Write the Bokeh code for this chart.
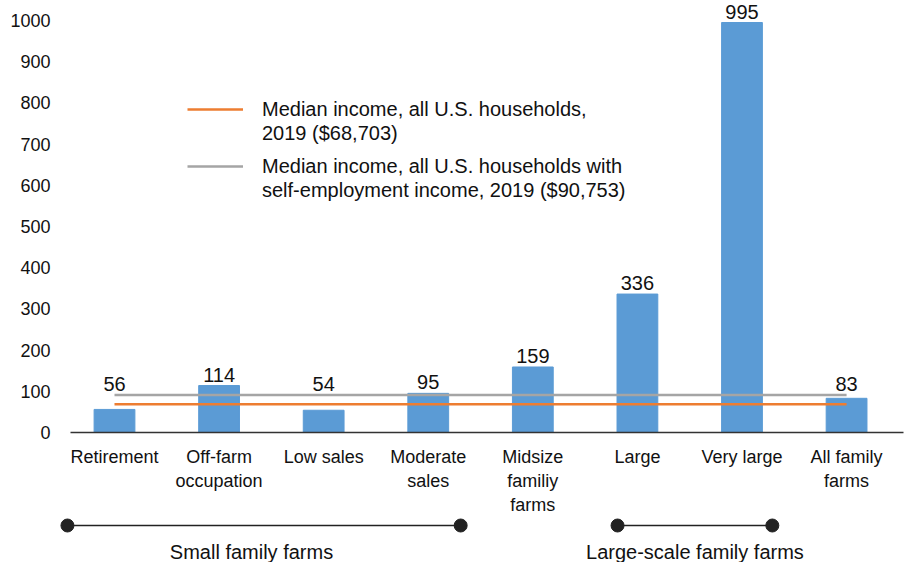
from bokeh.plotting import figure
from bokeh.models import Range1d, FixedTicker, Legend, LegendItem, ColumnDataSource
from bokeh.layouts import column
from bokeh.embed import file_html
from bokeh.resources import INLINE

# ---- data ----
categories = ["Retirement", "Off-farm\noccupation", "Low sales", "Moderate\nsales",
              "Midsize\nfamiliy\nfarms", "Large", "Very large", "All family\nfarms"]
income = [56, 114, 54, 95, 159, 336, 995, 83]          # $1,000
median_all_households = 68.703                          # $1,000
median_self_employed = 90.753                           # $1,000
y_ticks = [0, 100, 200, 300, 400, 500, 600, 700, 800, 900, 1000]
legend_all = ["Median income, all U.S. households,", "2019 ($68,703)"]
legend_self = ["Median income, all U.S. households with", "self-employment income, 2019 ($90,753)"]
groups = ["Small family farms", "Large-scale family farms"]
group_first = [0, 5]
group_last = [3, 6]

# ---- style ----
FONT = "Liberation Sans"
BAR = "#5B9BD5"
ORANGE = "#ED7D31"
GREY = "#A5A5A5"
TXT = "#111111"
W = 905
BORDER_LEFT = 70
BORDER_RIGHT = 2
FRAME_BOTTOM = 433
H_MAIN = 517
H_BOT = 45
PPU = (W - BORDER_LEFT - BORDER_RIGHT) / 7.965
X0 = -44.0 / PPU
X1 = X0 + (W - BORDER_LEFT - BORDER_RIGHT) / PPU
YMAX = FRAME_BOTTOM / 0.413
pad_left = [0.45, 0.19]
pad_right = [0.31, 0.29]
group_label_shift = [-0.12, 0.0]

idx = list(range(len(categories)))
label_y = [max(v, median_self_employed) for v in income]
src = ColumnDataSource(dict(x=idx, top=income, ly=label_y, txt=[str(v) for v in income]))

p = figure(width=W, height=H_MAIN, x_range=Range1d(X0, X1), y_range=Range1d(0, YMAX),
           output_backend="svg", toolbar_location=None,
           min_border_left=BORDER_LEFT, min_border_right=BORDER_RIGHT, min_border_top=0,
           min_border_bottom=H_MAIN - FRAME_BOTTOM)
p.outline_line_color = None
p.grid.grid_line_color = None
p.background_fill_color = "white"

p.vbar(x="x", top="top", width=0.39, color=BAR, source=src)
r_all = p.line(x=[idx[0], idx[-1]], y=[median_all_households] * 2, color=ORANGE, line_width=2.5)
r_self = p.line(x=[idx[0], idx[-1]], y=[median_self_employed] * 2, color=GREY, line_width=2.5)
r_blank = p.line(x=[], y=[], line_alpha=0)
p.text(x="x", y="ly", text="txt", source=src, text_align="center", text_baseline="bottom",
       y_offset=-4, text_font={"value": FONT}, text_font_size="20px", text_color=TXT)

# axes
p.yaxis.ticker = FixedTicker(ticks=y_ticks)
p.yaxis.axis_line_color = None
p.yaxis.major_tick_line_color = None
p.yaxis.minor_tick_line_color = None
p.yaxis.major_tick_out = 0
p.yaxis.major_tick_in = 0
p.yaxis.major_label_standoff = 20
p.yaxis.major_label_text_font = FONT
p.yaxis.major_label_text_font_size = "18px"
p.yaxis.major_label_text_color = TXT

p.xaxis.ticker = FixedTicker(ticks=idx)
p.xaxis.major_label_overrides = {i: c for i, c in zip(idx, categories)}
p.xaxis.axis_line_color = "#333333"
p.xaxis.axis_line_width = 1.3
p.xaxis.major_tick_line_color = None
p.xaxis.minor_tick_line_color = None
p.xaxis.major_tick_out = 0
p.xaxis.major_tick_in = 0
p.xaxis.major_label_standoff = 14
p.xaxis.major_label_text_font = FONT
p.xaxis.major_label_text_font_size = "18px"
p.xaxis.major_label_text_color = TXT


def make_legend(lines, rend, loc):
    lg = Legend(items=[LegendItem(label=lines[0], renderers=[rend]),
                       LegendItem(label=lines[1], renderers=[r_blank])], location=loc)
    lg.label_text_font = FONT
    lg.label_text_font_size = "20px"
    lg.label_text_color = TXT
    lg.label_height = 24
    lg.glyph_height = 20
    lg.glyph_width = 56
    lg.label_standoff = 19
    lg.spacing = 0
    lg.padding = 0
    lg.margin = 0
    lg.border_line_color = None
    lg.background_fill_alpha = 0
    return lg


p.add_layout(make_legend(legend_all, r_all, (117, 287)))
p.add_layout(make_legend(legend_self, r_self, (117, 230)))

# ---- group brackets ----
b_x0 = X0 - BORDER_LEFT / PPU
b_x1 = X1 + BORDER_RIGHT / PPU
p2 = figure(width=W, height=H_BOT, x_range=Range1d(b_x0, b_x1), y_range=Range1d(0, 1),
            output_backend="svg", toolbar_location=None,
            x_axis_location=None, y_axis_location=None,
            min_border_left=0, min_border_right=0, min_border_top=0, min_border_bottom=0)
p2.frame_align = False
p2.outline_line_color = None
p2.grid.grid_line_color = None
starts = [f - pl for f, pl in zip(group_first, pad_left)]
ends = [l + pr for l, pr in zip(group_last, pad_right)]
mids = [(a + b) / 2 + s for a, b, s in zip(starts, ends, group_label_shift)]
yb = 1 - 8 / H_BOT
yt = 1 - 34 / H_BOT
p2.segment(x0=starts, y0=[yb] * 2, x1=ends, y1=[yb] * 2, line_color="#222222", line_width=1.5)
p2.scatter(x=starts + ends, y=[yb] * 4, size=13, color="#222222")
p2.text(x=mids, y=[yt] * 2, text=groups, text_align="center", text_baseline="middle",
        text_font={"value": FONT}, text_font_size="20px", text_color=TXT)

layout = column(p, p2, spacing=0)
open("out.html", "w").write(file_html(layout, INLINE))
